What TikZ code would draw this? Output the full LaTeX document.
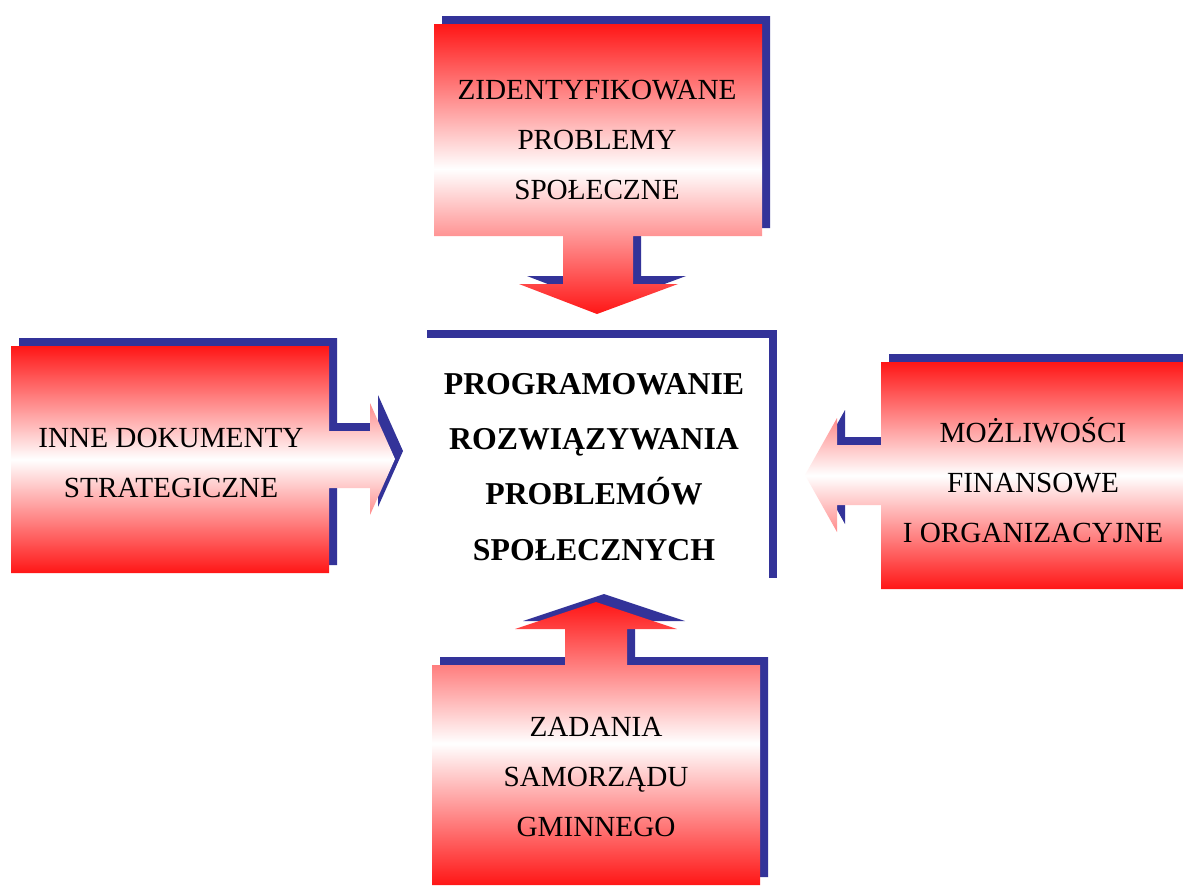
\documentclass[tikz,border=0pt]{standalone}
\usepackage{fontspec}
\setmainfont{Liberation Serif}
\definecolor{SchemeRed}{RGB}{255,22,22}
\definecolor{SchemeShadow}{RGB}{51,51,153}
\definecolor{SchemePaper}{RGB}{255,255,255}
\tikzset{
    scheme/diagram/.style={
        x=0.5pt, y=-0.5pt,
        every node/.style={inner sep=0pt, outer sep=0pt, align=center, text=black}
    },
    scheme/shadow/.style={fill=SchemeShadow, draw=none, shift={(8,-8)}},
    scheme/callout/.style={
        top color=SchemeRed, bottom color=SchemeRed, middle color=white, draw=none
    },
    scheme/core/.style={fill=SchemePaper, draw=none},
    scheme/text/.style={font=\fontsize{14.6}{25}\selectfont},
    scheme/title/.style={font=\fontsize{15.9}{27.6}\selectfont\bfseries}
}
\begin{document}
\begin{tikzpicture}[scheme/diagram]
    \useasboundingbox (0,0) rectangle (1183,885);
    \fill[white] (0,0) rectangle (1183,885);
    \clip (0,0) rectangle (1183,885);
    \def\TopCallout{
        (434,24) -- (762,24) -- (762,236) -- (633,236) -- (633,284)
        -- (678,284) -- (597,314) -- (519,284) -- (563,284)
        -- (563,236) -- (434,236) -- cycle
    }
    \def\LeftCallout{
        (11,346) -- (329,346) -- (329,431) -- (370,431) -- (370,403)
        -- (395,459) -- (370,515) -- (370,488) -- (329,488)
        -- (329,573) -- (11,573) -- cycle
    }
    \def\RightCallout{
        (881,362) -- (1195,362) -- (1195,589) -- (881,589) -- (881,505)
        -- (837,505) -- (837,532) -- (805,475) -- (837,418)
        -- (837,445) -- (881,445) -- cycle
    }
    \def\BottomCallout{
        (432,665) -- (565,665) -- (565,629) -- (515,629) -- (596,602)
        -- (677,629) -- (627,629) -- (627,665) -- (760,665)
        -- (760,885) -- (432,885) -- cycle
    }
    % shadows first, the shaded bodies go on top
    \fill[scheme/shadow] \TopCallout;
    \fill[scheme/shadow] \LeftCallout;
    \fill[scheme/shadow] \RightCallout;
    \fill[scheme/shadow] \BottomCallout;
    \fill[scheme/shadow] (419,338) rectangle (769,586);
    \shade[scheme/callout] \TopCallout;
    \shade[scheme/callout] \LeftCallout;
    \shade[scheme/callout] \RightCallout;
    \shade[scheme/callout] \BottomCallout;
    \fill[scheme/core] (419,338) rectangle (769,586);
    \node[scheme/title] (core) at (594,467)
        {PROGRAMOWANIE\\ROZWIĄZYWANIA\\PROBLEMÓW\\SPOŁECZNYCH};
    \node[scheme/text] (problems) at (597,140)
        {ZIDENTYFIKOWANE\\PROBLEMY\\SPOŁECZNE};
    \node[scheme/text] (documents) at (171,463)
        {INNE DOKUMENTY\\STRATEGICZNE};
    \node[scheme/text] (means) at (1033,480)
        {MOŻLIWOŚCI\\FINANSOWE\\I ORGANIZACYJNE};
    \node[scheme/text] (tasks) at (596,777)
        {ZADANIA\\SAMORZĄDU\\GMINNEGO};
\end{tikzpicture}
\end{document}
